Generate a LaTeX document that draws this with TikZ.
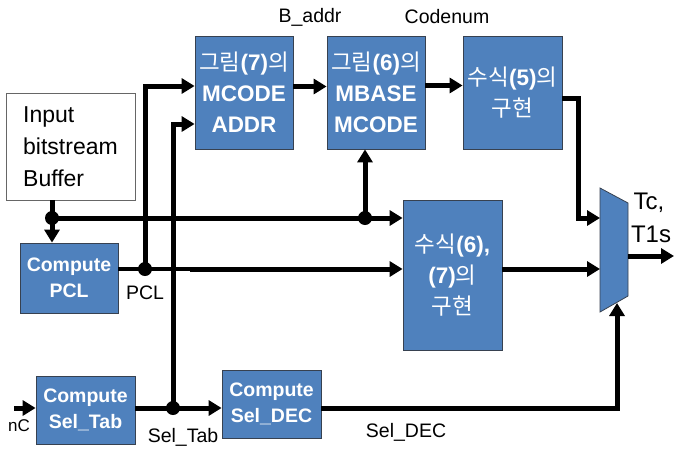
\documentclass[tikz,border=0pt]{standalone}
\usepackage{fontspec}
\setmainfont{Liberation Sans}
\newfontfamily\krfont{Noto Sans CJK KR}
\newcommand{\kor}[1]{{\krfont\mdseries #1}}
\definecolor{blkblue}{RGB}{79,129,189}
\definecolor{blkedge}{RGB}{55,65,80}
\usetikzlibrary{arrows.meta}

\begin{document}
\begin{tikzpicture}[x=1pt, y=-1pt,
  block/.style={rectangle, draw=blkedge, line width=0.8pt, fill=blkblue, text=white,
    inner sep=0pt, align=center, font=\bfseries\fontsize{22.5}{31}\selectfont},
  smallblock/.style={block, font=\bfseries\fontsize{19.5}{26}\selectfont},
  wire/.style={line width=5pt},
  arr/.style={wire, -{Triangle[length=13pt,width=15pt]}},
  dot/.style={circle, fill=black, inner sep=0pt, minimum size=14pt},
  lbl/.style={inner sep=0pt, font=\fontsize{19.5}{22}\selectfont}]
\useasboundingbox[fill=white] (0,0) rectangle (674,450);

% blocks
\node[block, minimum width=98pt, minimum height=113pt] (mcode) at (244,92.5) {\kor{그림}(7)\kor{의}\\MCODE\\ADDR};
\node[block, minimum width=98pt, minimum height=113pt] (mbase) at (376,92.5) {\kor{그림}(6)\kor{의}\\MBASE\\MCODE};
\node[block, minimum width=99pt, minimum height=113pt] (eqfive) at (512.5,92.5) {\kor{수식}(5)\kor{의}\\\kor{구현}};
\node[draw=black!60, line width=0.8pt, fill=white, minimum width=129pt, minimum height=107pt,
  inner sep=0pt, align=left, font=\fontsize{23}{32}\selectfont] (buffer) at (70.5,146.5) {Input\\bitstream\\Buffer};
\node[smallblock, minimum width=98pt, minimum height=70pt] (pcl) at (69,278) {Compute\\PCL};
\node[block, minimum width=99pt, minimum height=150pt] (eqsix) at (452.5,275) {\kor{수식}(6),\\(7)\kor{의}\\\kor{구현}};
\node[smallblock, minimum width=99pt, minimum height=68pt] (seltab) at (85.5,410) {Compute\\Sel\_Tab};
\node[smallblock, minimum width=99pt, minimum height=68pt] (seldec) at (271.5,404) {Compute\\Sel\_DEC};

% multiplexer
\draw[fill=blkblue, draw=blkedge, line width=0.8pt] (600,188) -- (628,203) -- (628,296) -- (600,312) -- cycle;
\coordinate (muxa) at (600,218);
\coordinate (muxb) at (600,269);
\coordinate (muxs) at (617,303);
\coordinate (muxo) at (628,256);
\coordinate (out) at (674,256);

% junctions
\coordinate (jb) at (52,218);
\coordinate (jm) at (365,218);
\coordinate (jp) at (145,269);
\coordinate (pt) at (190,269);
\coordinate (js) at (173,408);
\coordinate (nc) at (14,408);

% connectors
\draw[wire] (buffer.south -| jb) -- (jb);
\draw[arr] (jb) -- (jb |- pcl.north);
\draw[arr] (jb) -- (eqsix.west |- jb);
\draw[arr] (jm) -- (jm |- mbase.south);
\draw[line width=3.5pt] (pcl.east |- jp) -- (pt);
\draw[arr] (pt) -- (eqsix.west |- jp);
\draw[arr] (jp) |- ([yshift=6.5pt]mcode.west);
\draw[arr] (js) |- ([yshift=-31.5pt]mcode.west);
\draw[arr] (nc) -- (seltab.west |- nc);
\draw[arr] (seltab.east |- js) -- (seldec.west |- js);
\draw[arr] ([yshift=6pt]mcode.east) -- ([yshift=6pt]mbase.west);
\draw[arr] ([yshift=7pt]mbase.east) -- ([yshift=7pt]eqfive.west);
\draw[arr] ([yshift=-5.5pt]eqfive.east) -- ++(16,0) |- (muxa);
\draw[arr] (eqsix.east |- muxb) -- (muxb);
\draw[arr] (seldec.east |- js) -| (muxs);
\draw[arr] (muxo) -- (out);

\node[dot] (dotb) at (jb) {};
\node[dot] (dotm) at (jm) {};
\node[dot] (dotp) at (jp) {};
\node[dot] (dots) at (js) {};

% labels
\node[lbl] (baddr) at (310,17) {B\_addr};
\node[lbl] (codenum) at (447,17) {Codenum};
\node[lbl] (pcllbl) at (145,293) {PCL};
\node[lbl] (seltablbl) at (183,437) {Sel\_Tab};
\node[lbl] (seldeclbl) at (406,432) {Sel\_DEC};
\node[lbl, font=\fontsize{17}{20}\selectfont] (nclbl) at (19,426) {nC};
\node[lbl, font=\fontsize{24}{26}\selectfont] (tclbl) at (649,203) {Tc,};
\node[lbl, font=\fontsize{24}{26}\selectfont] (tlslbl) at (651,234) {T1s};
\end{tikzpicture}
\end{document}
